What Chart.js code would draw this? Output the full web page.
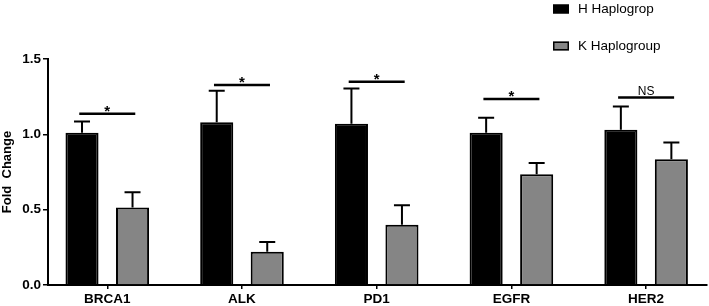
<!DOCTYPE html>
<html>
<head>
<meta charset="utf-8">
<script src="https://cdn.jsdelivr.net/npm/chart.js@4.4.1/dist/chart.umd.min.js"></script>
<style>
  html, body { margin: 0; padding: 0; background: #fff; }
  #wrap { width: 709px; height: 306px; }
</style>
</head>
<body>
<div id="wrap"><canvas id="foldChart" width="709" height="306"></canvas></div>
<script>
const genes = ["BRCA1", "ALK", "PD1", "EGFR", "HER2"];
const seriesNames = ["H Haplogrop", "K Haplogroup"];
const hValues = [1.01, 1.08, 1.07, 1.01, 1.03];
const hErrors = [0.075, 0.21, 0.235, 0.10, 0.155];
const kValues = [0.515, 0.22, 0.40, 0.735, 0.835];
const kErrors = [0.10, 0.066, 0.13, 0.075, 0.11];
const sigHeights = [1.137, 1.327, 1.349, 1.234, 1.245];
const sigLabels = ["*", "*", "*", "*", "NS"];
const yTicks = [0, 0.5, 1.0, 1.5];

const FONT = "'Liberation Sans', Arial, sans-serif";
const errs = [hErrors, kErrors];

// upper whiskers only, like the graphpad original
const errorBars = {
    id: "errorBars",
    afterDatasetsDraw(chart) {
        const ctx = chart.ctx;
        const y = chart.scales.y;
        ctx.save();
        ctx.strokeStyle = "#000";
        ctx.lineWidth = 2;
        chart.data.datasets.forEach((ds, i) => {
            const meta = chart.getDatasetMeta(i);
            meta.data.forEach((bar, j) => {
                const top = y.getPixelForValue(ds.data[j].y);
                const end = y.getPixelForValue(ds.data[j].y + errs[i][j]);
                ctx.beginPath();
                ctx.moveTo(bar.x, top);
                ctx.lineTo(bar.x, end);
                ctx.moveTo(bar.x - 8, end);
                ctx.lineTo(bar.x + 8, end);
                ctx.stroke();
            });
        });
        ctx.restore();
    }
};

const sigMarks = {
    id: "sigMarks",
    afterDatasetsDraw(chart) {
        const ctx = chart.ctx;
        const xs = chart.scales.x, ys = chart.scales.y;
        ctx.save();
        ctx.strokeStyle = "#000";
        ctx.fillStyle = "#000";
        ctx.lineWidth = 2.5;
        ctx.textAlign = "center";
        sigHeights.forEach((h, j) => {
            const cx = xs.getPixelForValue(j);
            const py = ys.getPixelForValue(h);
            ctx.beginPath();
            ctx.moveTo(cx - 28, py);
            ctx.lineTo(cx + 28, py);
            ctx.stroke();
            if (sigLabels[j] === "*") {
                ctx.font = "bold 15px " + FONT;
                ctx.textBaseline = "alphabetic";
                ctx.fillText("*", cx, py + 2);
            } else {
                ctx.font = "12px " + FONT;
                ctx.textBaseline = "alphabetic";
                ctx.fillText(sigLabels[j], cx, py - 2);
            }
        });
        ctx.restore();
    }
};

// legend stacked in the top right corner
const cornerLegend = {
    id: "cornerLegend",
    afterDraw(chart) {
        const ctx = chart.ctx;
        const bx = chart.width - 156;
        ctx.save();
        ctx.font = "13.5px " + FONT;
        ctx.textBaseline = "middle";
        ctx.textAlign = "left";
        chart.data.datasets.forEach((ds, i) => {
            const cy = 9 + i * 37;
            ctx.fillStyle = ds.backgroundColor;
            ctx.fillRect(bx, cy - 4.5, 16, 9);
            ctx.strokeStyle = "#000";
            ctx.lineWidth = 1.5;
            ctx.strokeRect(bx + 0.75, cy - 3.75, 14.5, 7.5);
            ctx.fillStyle = "#000";
            ctx.fillText(ds.label, bx + 25, cy);
        });
        ctx.restore();
    }
};

new Chart(document.getElementById("foldChart"), {
    type: "bar",
    data: {
        datasets: [
            {
                label: seriesNames[0],
                data: hValues.map((v, i) => ({ x: i, y: v })),
                backgroundColor: "#000000",
                borderColor: "#000000",
                borderWidth: 2
            },
            {
                label: seriesNames[1],
                data: kValues.map((v, i) => ({ x: i, y: v })),
                backgroundColor: "#858585",
                borderColor: "#000000",
                borderWidth: 2
            }
        ]
    },
    options: {
        responsive: false,
        animation: false,
        categoryPercentage: 0.75,
        barPercentage: 0.655,
        layout: { padding: { top: 59, right: 2, left: 0, bottom: 0 } },
        plugins: {
            legend: { display: false },
            tooltip: { enabled: false }
        },
        scales: {
            x: {
                type: "linear",
                offset: false,
                min: -0.44,
                max: 4.452,
                afterBuildTicks: (s) => {
                    s.ticks = genes.map((g, i) => ({ value: i }));
                },
                afterFit: (s) => { s.height = 21; },
                ticks: {
                    autoSkip: false,
                    maxRotation: 0,
                    padding: 2,
                    color: "#000",
                    font: { family: FONT, size: 13.5, weight: "bold" },
                    callback: (v) => genes[v]
                },
                grid: {
                    display: true,
                    offset: false,
                    drawOnChartArea: false,
                    drawTicks: true,
                    tickLength: 4,
                    color: "#000",
                    lineWidth: 1.5
                },
                border: { display: true, color: "#000", width: 2 }
            },
            y: {
                min: 0,
                max: 1.5,
                afterBuildTicks: (s) => {
                    s.ticks = yTicks.map((v) => ({ value: v }));
                },
                afterFit: (s) => { s.width = 48; },
                ticks: {
                    padding: 2,
                    color: "#000",
                    font: { family: FONT, size: 13.5, weight: "bold" },
                    callback: (v) => Number(v).toFixed(1)
                },
                grid: {
                    display: true,
                    drawOnChartArea: false,
                    drawTicks: true,
                    tickLength: 5,
                    color: "#000",
                    lineWidth: 1.5
                },
                border: { display: true, color: "#000", width: 2 },
                title: {
                    display: true,
                    text: "Fold  Change",
                    color: "#000",
                    padding: { top: 0, bottom: 0 },
                    font: { family: FONT, size: 13, weight: "bold" }
                }
            }
        }
    },
    plugins: [errorBars, sigMarks, cornerLegend]
});
</script>
</body>
</html>
